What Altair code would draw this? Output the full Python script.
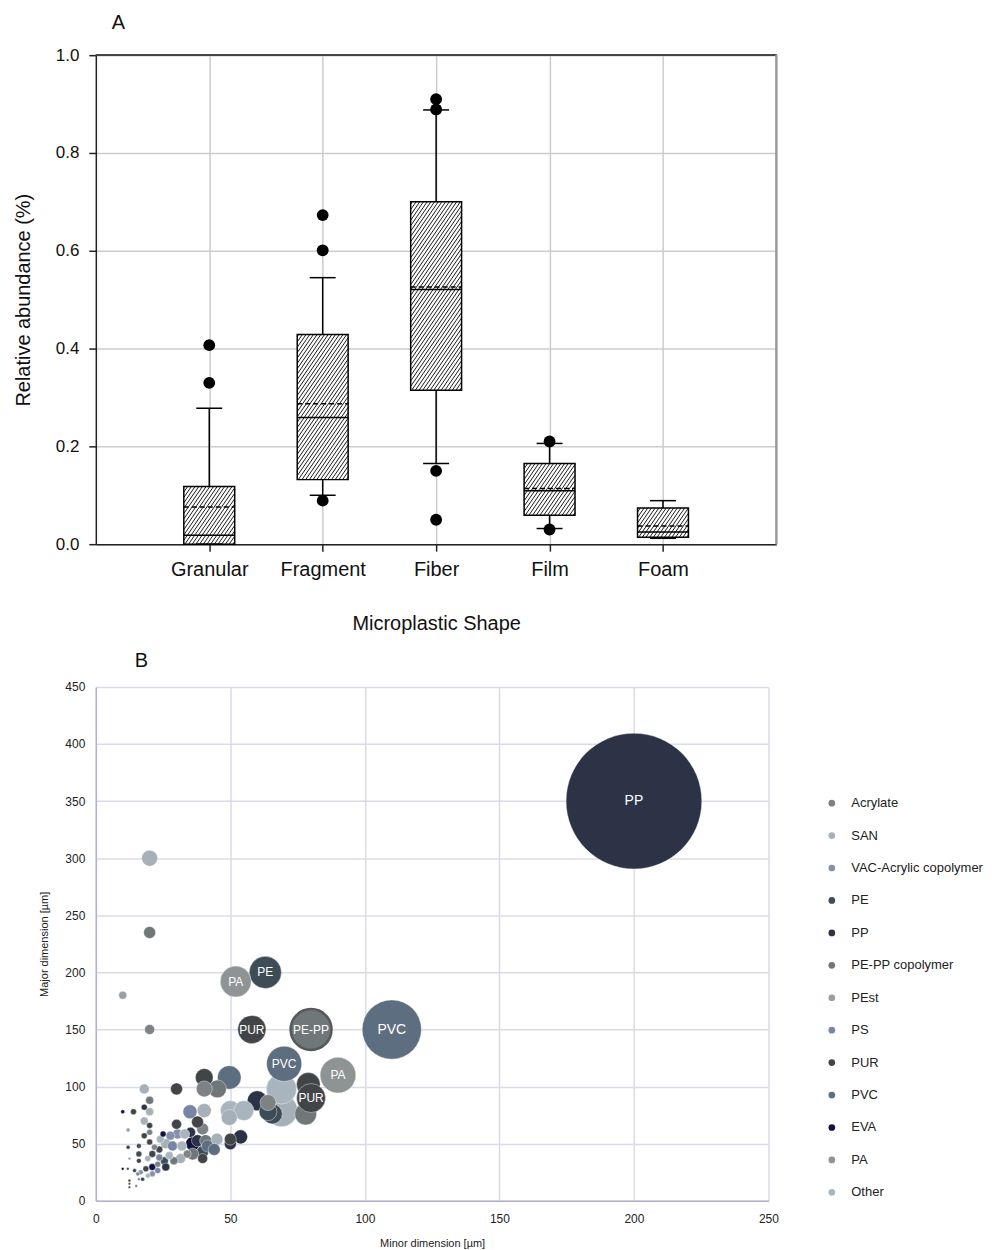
import json
import altair as alt
import pandas as pd

FONT = "Liberation Sans"

# ---------------- Panel A : box plots ----------------
shapes = ["Granular", "Fragment", "Fiber", "Film", "Foam"]
q1 = [0.000, 0.132, 0.315, 0.059, 0.014]
q3 = [0.118, 0.429, 0.700, 0.165, 0.074]
medians = [0.018, 0.259, 0.521, 0.109, 0.025]
means = [0.076, 0.287, 0.526, 0.114, 0.037]
whisk_lo = [0.000, 0.100, 0.165, 0.032, 0.012]
whisk_hi = [0.278, 0.545, 0.888, 0.206, 0.089]
outlier_shape = ["Granular", "Granular", "Fragment", "Fragment", "Fragment",
                 "Fiber", "Fiber", "Fiber", "Fiber", "Film", "Film"]
outlier_value = [0.407, 0.330, 0.673, 0.601, 0.089,
                 0.910, 0.889, 0.150, 0.050, 0.210, 0.030]
y_ticks_A = [0.0, 0.2, 0.4, 0.6, 0.8, 1.0]

# ---------------- Panel B : bubbles ----------------
polymers = ["Acrylate", "SAN", "VAC-Acrylic copolymer", "PE", "PP", "PE-PP copolymer",
            "PEst", "PS", "PUR", "PVC", "EVA", "PA", "Other"]
polymer_colors = ["#7d8285", "#a6b0b8", "#8690ad", "#3e4c57", "#2c3347", "#6f7778",
                  "#959fa4", "#7886a3", "#424548", "#5d6e80", "#12123f", "#8e9394", "#a9b5be"]

# (minor dimension, major dimension, relative amount)
acrylate_pts = [(40.3, 98, 6.4), (64, 86, 6.4), (39.7, 63, 3.6), (20, 150, 2.5), (20, 60, 0.9),
                (21.8, 47, 0.9), (34, 41, 1.6), (23, 32, 0.9), (15, 13, 0.2)]
san_pts = [(20, 300, 6.4), (18, 98, 2.5), (69, 79, 26), (49.6, 73, 6.4), (40.3, 79, 5),
           (45, 54, 3.6), (26, 50, 2.5), (31.5, 37, 2.5), (19.3, 37, 0.9), (20, 78, 1.6), (18, 70, 1.6)]
vac_pts = [(30.4, 58.5, 2.5), (27.7, 57, 2), (21, 23.6, 0.9), (16.7, 25, 0.6)]
pe_pts = [(65.6, 76, 10), (64, 78, 8), (39.7, 43, 3.6), (25.5, 35, 1.6), (16, 41, 0.9),
          (14.4, 26.5, 0.4), (11.9, 28, 0.2), (16, 48, 0.6)]
pp_pts = [(60, 87.6, 10), (53.8, 56, 5), (50, 50, 3.6), (35.2, 60, 2.5), (37.8, 52.7, 3.6),
          (26, 29.6, 1.6), (18, 82, 0.9)]
pepp_pts = [(78, 76, 12), (45.2, 98, 8), (20, 235, 3.6), (20, 88, 1.6), (40.8, 52.7, 3.6),
            (36, 41, 3.6), (29, 35, 1.6)]
pest_pts = [(10, 180, 1.6), (12.5, 37, 0.2), (12, 62, 0.4)]
ps_pts = [(35, 78, 5), (28.5, 48, 2.5), (23.6, 38, 1.2), (23, 26.5, 0.9), (15.6, 23.6, 0.4),
          (16, 19, 0.2)]
pur_pts = [(79, 102, 14), (40.3, 108, 8), (30, 98, 3.6), (50, 54, 3.6), (39.7, 37, 2.5),
           (30, 67, 2.5), (37.8, 69, 3.6), (20, 51.5, 0.9), (23.6, 45, 1.2), (21, 41, 1.2),
           (16, 35, 0.6), (18.6, 28, 0.9), (17.4, 19, 0.4), (12, 47, 0.4), (14, 78, 0.9),
           (20, 66, 0.9), (18, 57, 0.9), (12.5, 17.7, 0.2), (12.5, 15, 0.15), (12.5, 12, 0.15)]
pvc_pts = [(49.6, 108, 14), (41.5, 48, 3.6), (44, 45, 3.6)]
eva_pts = [(36, 50, 5), (25, 58.5, 0.9), (21, 29.6, 1.2), (10, 28, 0.2), (10, 78, 0.4)]
pa_pts = []
other_pts = [(69, 98, 23), (50, 79, 10), (55, 79, 10), (33, 58.5, 2.5), (24, 54, 1.6),
             (32, 48, 2.5), (27.3, 39.6, 1.6), (19.3, 22, 0.6)]

labeled_polymer = ["PP", "PVC", "PE-PP copolymer", "PUR", "PE", "PA", "PVC", "PA", "PUR"]
labeled_text = ["PP", "PVC", "PE-PP", "PUR", "PE", "PA", "PVC", "PA", "PUR"]
labeled_minor = [200, 110, 80, 58, 63, 52, 70, 90, 80]
labeled_major = [350, 150, 150, 150, 200, 192, 120, 110, 90]
labeled_amount = [462, 88, 42, 20, 26, 24, 31, 32, 21]

# ================= build panel A =================
W_A, H_A = 682, 490
X_PX = W_A / 6.0
BOX_HALF_PX, CAP_HALF_PX = 25.5, 13.0
hw, cw = BOX_HALF_PX / X_PX, CAP_HALF_PX / X_PX
pos = list(range(1, len(shapes) + 1))

box_df = pd.DataFrame(dict(shape=shapes, pos=pos, q1=q1, q3=q3, median=medians,
                           mean=means, lo=whisk_lo, hi=whisk_hi))
box_df["xl"] = box_df["pos"] - hw
box_df["xr"] = box_df["pos"] + hw
box_df["cl"] = box_df["pos"] - cw
box_df["cr"] = box_df["pos"] + cw

out_df = pd.DataFrame(dict(shape=outlier_shape, value=outlier_value))
out_df["pos"] = [shapes.index(s) + 1 for s in outlier_shape]

# hatch lines (///) clipped to each box, derived from the box extents
SLOPE, STEP_PX = 1.45, 3.7
Wb = 2 * BOX_HALF_PX
hatch_rows = []
for p, a, b in zip(pos, q1, q3):
    hpx = (b - a) * H_A
    dv = SLOPE * STEP_PX
    t = -SLOPE * Wb + dv * 0.5
    while t < hpx:
        s0 = max(0.0, -t / SLOPE)
        s1 = min(Wb, (hpx - t) / SLOPE)
        if s1 > s0:
            hatch_rows.append(dict(hx=p - hw + s0 / X_PX, hy=a + (SLOPE * s0 + t) / H_A,
                                   hx2=p - hw + s1 / X_PX, hy2=a + (SLOPE * s1 + t) / H_A))
        t += dv
hatch_df = pd.DataFrame(hatch_rows)

xs_A = alt.Scale(domain=[0, 6], nice=False, zero=False)
ys_A = alt.Scale(domain=[0, 1], nice=False)
label_expr = json.dumps([""] + shapes) + "[datum.value]"
x_axis_A = alt.Axis(values=pos, labelExpr=label_expr, grid=True, gridColor="#cccccc",
                    gridWidth=1.5, domainColor="#222222", domainWidth=1.5, tickColor="#222222",
                    tickSize=7, tickWidth=1.5, labelFontSize=20, labelPadding=8,
                    labelFlush=False, labelColor="#111111", title="Microplastic Shape",
                    titleFontSize=20, titleFontWeight="normal", titlePadding=35,
                    titleColor="#111111")
y_axis_A = alt.Axis(values=y_ticks_A, format=".1f", grid=True, gridColor="#cccccc",
                    gridWidth=1.5, domainColor="#222222", domainWidth=1.5, tickColor="#222222",
                    tickSize=7, tickWidth=1.5, labelFontSize=17, labelPadding=10,
                    labelFlush=False, labelColor="#111111", title="Relative abundance (%)",
                    titleFontSize=20, titleFontWeight="normal", titlePadding=22,
                    titleColor="#111111")


def XA(f):
    return alt.X(f, type="quantitative", scale=xs_A, axis=x_axis_A)


def YA(f):
    return alt.Y(f, type="quantitative", scale=ys_A, axis=y_axis_A)


base_box = alt.Chart(box_df)
box_fill = base_box.mark_rect(fill="white", strokeWidth=0).encode(
    x=XA("xl"), x2="xr", y=YA("q1"), y2="q3")
hatch = alt.Chart(hatch_df).mark_rule(color="black", strokeWidth=0.9).encode(
    x=XA("hx"), x2="hx2", y=YA("hy"), y2="hy2")
mean_l = base_box.mark_rule(color="black", strokeWidth=1.5, strokeDash=[5, 3]).encode(
    x=XA("xl"), x2="xr", y=YA("mean"))
med_l = base_box.mark_rule(color="black", strokeWidth=1.5).encode(
    x=XA("xl"), x2="xr", y=YA("median"))
box_line = base_box.mark_rect(fillOpacity=0, stroke="black", strokeWidth=1.5).encode(
    x=XA("xl"), x2="xr", y=YA("q1"), y2="q3")
wh_up = base_box.mark_rule(color="black", strokeWidth=1.5).encode(
    x=XA("pos"), y=YA("q3"), y2="hi")
wh_lo = base_box.mark_rule(color="black", strokeWidth=1.5).encode(
    x=XA("pos"), y=YA("lo"), y2="q1")
cap_up = base_box.mark_rule(color="black", strokeWidth=1.5).encode(
    x=XA("cl"), x2="cr", y=YA("hi"))
cap_lo = base_box.mark_rule(color="black", strokeWidth=1.5).encode(
    x=XA("cl"), x2="cr", y=YA("lo"))
outl = alt.Chart(out_df).mark_circle(size=140, color="black", opacity=1).encode(
    x=XA("pos"), y=YA("value"))
top_border = base_box.mark_rule(color="#444444", strokeWidth=1.5).encode(
    y=alt.Y(datum=1.0, scale=ys_A, axis=y_axis_A))
right_border = base_box.mark_rule(color="#9a9a9a", strokeWidth=1.5).encode(
    x=alt.X(datum=6, scale=xs_A, axis=x_axis_A))

panel_a = alt.layer(box_fill, hatch, mean_l, med_l, box_line, wh_up, wh_lo, cap_up, cap_lo,
                    outl, top_border, right_border).properties(
    width=W_A, height=H_A,
    title=alt.TitleParams("A", anchor="start", frame="group", dx=16, fontSize=20,
                          fontWeight="normal", offset=13, color="#111111"))

# ================= build panel B =================
groups = [acrylate_pts, san_pts, vac_pts, pe_pts, pp_pts, pepp_pts, pest_pts, ps_pts,
          pur_pts, pvc_pts, eva_pts, pa_pts, other_pts]
rows = []
for name, pts in zip(polymers, groups):
    for (mx, my, n) in pts:
        rows.append(dict(minor=mx, major=my, amount=n, polymer=name, label=""))
rows.sort(key=lambda r: -r["amount"])
for name, txt, mx, my, n in zip(labeled_polymer, labeled_text, labeled_minor,
                                labeled_major, labeled_amount):
    rows.append(dict(minor=mx, major=my, amount=n, polymer=name, label=txt))
bub_df = pd.DataFrame(rows)
bub_df["idx"] = range(len(bub_df))

W_B, H_B = 674, 515
xs_B = alt.Scale(domain=[0, 250], nice=False, zero=True)
ys_B = alt.Scale(domain=[0, 450], nice=False, zero=True)
common_B = dict(grid=True, gridColor="#dbdae8", gridWidth=1.5, domainColor="#b3b1cc",
                domainWidth=1.5, ticks=False, labelFontSize=12, labelColor="#222222",
                labelFlush=False, titleFontSize=11, titleFontWeight="normal",
                titleColor="#222222")
x_axis_B = alt.Axis(values=[0, 50, 100, 150, 200, 250], labelPadding=13,
                    title="Minor dimension [µm]", titlePadding=13, **common_B)
y_axis_B = alt.Axis(values=[0, 50, 100, 150, 200, 250, 300, 350, 400, 450], labelPadding=11,
                    title="Major dimension [µm]", titlePadding=15, **common_B)

max_amount = max(bub_df["amount"])
bubbles = alt.Chart(bub_df).mark_circle(opacity=1).encode(
    x=alt.X("minor:Q", scale=xs_B, axis=x_axis_B),
    y=alt.Y("major:Q", scale=ys_B, axis=y_axis_B),
    size=alt.Size("amount:Q", scale=alt.Scale(domain=[0, max_amount], range=[0, 18496]),
                  legend=None),
    color=alt.Color("polymer:N", scale=alt.Scale(domain=polymers, range=polymer_colors),
                    legend=alt.Legend(title=None, orient="none", legendX=731, legendY=743,
                                      symbolType="circle", symbolSize=45, symbolOpacity=1,
                                      symbolStrokeWidth=0, labelFontSize=13, labelOffset=13,
                                      rowPadding=18.5, labelColor="#222222", labelLimit=300)),
    stroke=alt.condition(alt.datum.label == "PE-PP", alt.value("#55595b"), alt.value("white")),
    strokeWidth=alt.condition(alt.datum.label == "PE-PP", alt.value(2.5), alt.value(0.4)),
    order=alt.Order("idx:Q"),
)
labels = alt.Chart(bub_df).transform_filter(alt.datum.label != "").mark_text(
    color="white", baseline="middle", align="center").encode(
    x=alt.X("minor:Q", scale=xs_B, axis=x_axis_B),
    y=alt.Y("major:Q", scale=ys_B, axis=y_axis_B),
    text="label:N",
    size=alt.condition(alt.datum.amount > 80, alt.value(14), alt.value(12)))

panel_b = alt.layer(bubbles, labels).properties(
    width=W_B, height=H_B,
    title=alt.TitleParams("B", anchor="start", frame="group", dx=39, fontSize=20,
                          fontWeight="normal", offset=10, color="#111111"))

chart = alt.vconcat(panel_a, panel_b, spacing=143, bounds="flush").properties(
    padding={"left": 5, "top": 4, "right": 4, "bottom": 0}
).configure(font=FONT).configure_view(stroke=None)

chart.save("out.html", embed_options={"renderer": "svg", "actions": False})
